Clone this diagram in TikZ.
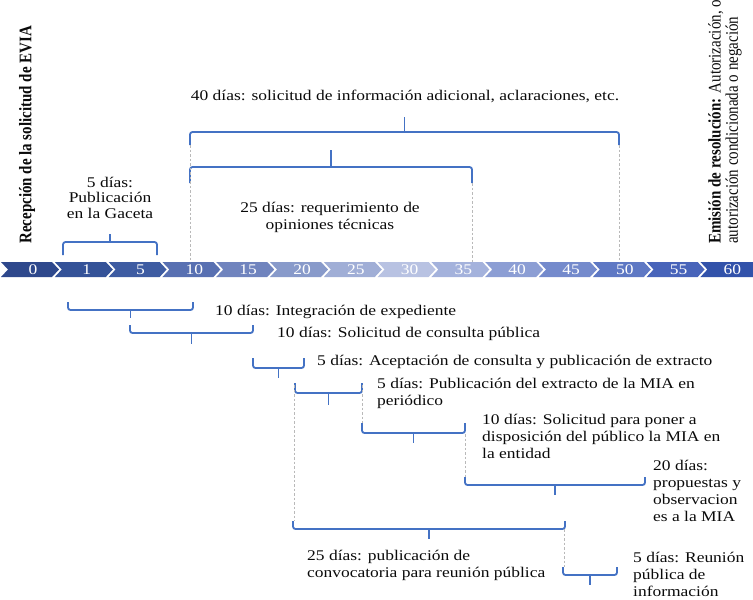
\documentclass[tikz,border=0pt]{standalone}
\usepackage{fontspec}
\usepackage{graphicx}
\setmainfont{Liberation Serif}[FakeStretch=1.18]
\newfontfamily\rotfont{Liberation Serif}
\definecolor{bblue}{RGB}{68,114,196}
\definecolor{dotgray}{RGB}{185,185,185}
\definecolor{txt}{RGB}{10,10,10}
\definecolor{ch0}{RGB}{46,72,140}
\definecolor{ch1}{RGB}{52,82,152}
\definecolor{ch2}{RGB}{62,92,162}
\definecolor{ch3}{RGB}{88,112,178}
\definecolor{ch4}{RGB}{112,132,190}
\definecolor{ch5}{RGB}{136,154,202}
\definecolor{ch6}{RGB}{160,174,214}
\definecolor{ch7}{RGB}{184,194,226}
\definecolor{ch8}{RGB}{164,178,220}
\definecolor{ch9}{RGB}{140,158,212}
\definecolor{ch10}{RGB}{116,138,204}
\definecolor{ch11}{RGB}{94,120,196}
\definecolor{ch12}{RGB}{72,100,186}
\definecolor{ch13}{RGB}{50,82,170}
\newcommand\tlbrace[5]{%
  \draw[brc] (#1,#3) -- (#1,#4) -- (#2,#4) -- (#2,#3);
  \draw[brc] ({(#1+#2)/2},#4) -- ({(#1+#2)/2},#5);}
\begin{document}
\begin{tikzpicture}[x=1pt,y=-1pt,
  font=\fontsize{14.8}{17}\selectfont,
  brc/.style={draw=bblue,line width=1.8pt,rounded corners=2.5pt},
  dots/.style={draw=dotgray,line width=1pt,dash pattern=on 2.5pt off 2pt},
  lbl/.style={inner sep=0pt,align=left,text=txt},
  chtext/.style={inner sep=0pt,text=white}]
\useasboundingbox (0,0) rectangle (753,600);
% chevron bar
\foreach \k/\lab in {0/0,1/1,2/5,3/10,4/15,5/20,6/25,7/30,8/35,9/40,10/45,11/50,12/55}{
  \pgfmathsetmacro\ax{1+53.8*\k}
  \fill[ch\k] (\ax,262) -- ({\ax+51},262) -- ({\ax+58},269.5) -- ({\ax+51},277) -- (\ax,277) -- ({\ax+7},269.5) -- cycle;
  \node[chtext] (t\k) at ({\ax+32},269.5) {\lab};
}
\fill[ch13] (700.4,262) -- (753,262) -- (753,277) -- (700.4,277) -- (707.4,269.5) -- cycle;
\node[chtext] (t13) at (732.4,269.5) {60};
% vertical texts
\node[inner sep=0pt,anchor=south,text=txt] (rec) at (27,244)
  {\scalebox{1.18}[1]{\rotatebox{90}{\rotfont\fontsize{15}{17}\selectfont\bfseries Recepción de la solicitud de EVIA}}};
\node[inner sep=0pt,anchor=south west,text=txt] (emi) at (708,244)
  {\scalebox{1.18}[1]{\rotatebox{90}{\rotfont\fontsize{15}{14.5}\selectfont\begin{tabular}{@{}l@{}}\textbf{Emisión de resolución:} Autorización, o\\ autorización condicionada o negación\end{tabular}}}};
% upper braces
\tlbrace{190}{619}{145}{132}{117}
\tlbrace{190}{472}{183}{167}{150}
\tlbrace{63}{157}{255}{242}{234}
\node[lbl,anchor=north] (l40) at (405,90) {40 días: solicitud de información adicional, aclaraciones, etc.};
\node[lbl,anchor=north,align=center] (l25) at (330,202) {25 días: requerimiento de\\opiniones técnicas};
\node[lbl,anchor=north,align=center,font=\fontsize{14.8}{15.5}\selectfont] (lgac) at (110,177) {5 días:\\Publicación\\en la Gaceta};
% dotted guides (upper)
\coordinate (u1) at (190,145); \coordinate (u1b) at (190,262);
\coordinate (u2) at (472,183); \coordinate (u2b) at (472,262);
\coordinate (u3) at (619,145); \coordinate (u3b) at (619,262);
\draw[dots] (u1) -- (u1b);
\draw[dots] (u2) -- (u2b);
\draw[dots] (u3) -- (u3b);
% lower braces
\tlbrace{68}{193}{302}{310}{318}
\tlbrace{130}{253}{325}{333}{344}
\tlbrace{253}{304}{358}{368}{378}
\tlbrace{295}{362}{383}{393}{405}
\tlbrace{362}{465}{423}{433}{443}
\tlbrace{465}{645}{477}{485}{495}
\tlbrace{293}{565}{521}{529}{539}
\tlbrace{563}{617}{567}{575}{585}
% dotted guides (lower)
\coordinate (g1) at (294,385); \coordinate (g1b) at (294,521);
\coordinate (g2) at (362,385); \coordinate (g2b) at (362,423);
\coordinate (g3) at (465,434); \coordinate (g3b) at (465,477);
\coordinate (g4) at (564,529); \coordinate (g4b) at (564,567);
\draw[dots] (g1) -- (g1b);
\draw[dots] (g2) -- (g2b);
\draw[dots] (g3) -- (g3b);
\draw[dots] (g4) -- (g4b);
% lower labels
\node[lbl,anchor=north west] (l1) at (215,305) {10 días: Integración de expediente};
\node[lbl,anchor=north west] (l2) at (277,327) {10 días: Solicitud de consulta pública};
\node[lbl,anchor=north west] (l3) at (317,355) {5 días: Aceptación de consulta y publicación de extracto};
\node[lbl,anchor=north west] (l4) at (377,378) {5 días: Publicación del extracto de la MIA en\\periódico};
\node[lbl,anchor=north west] (l5) at (482,414) {10 días: Solicitud para poner a\\disposición del público la MIA en\\la entidad};
\node[lbl,anchor=north west] (l6) at (653,460) {20 días:\\propuestas y\\observacion\\es a la MIA};
\node[lbl,anchor=north west] (l7) at (307,550) {25 días: publicación de\\convocatoria para reunión pública};
\node[lbl,anchor=north west] (l8) at (633,552) {5 días: Reunión\\pública de\\información};
\end{tikzpicture}
\end{document}
